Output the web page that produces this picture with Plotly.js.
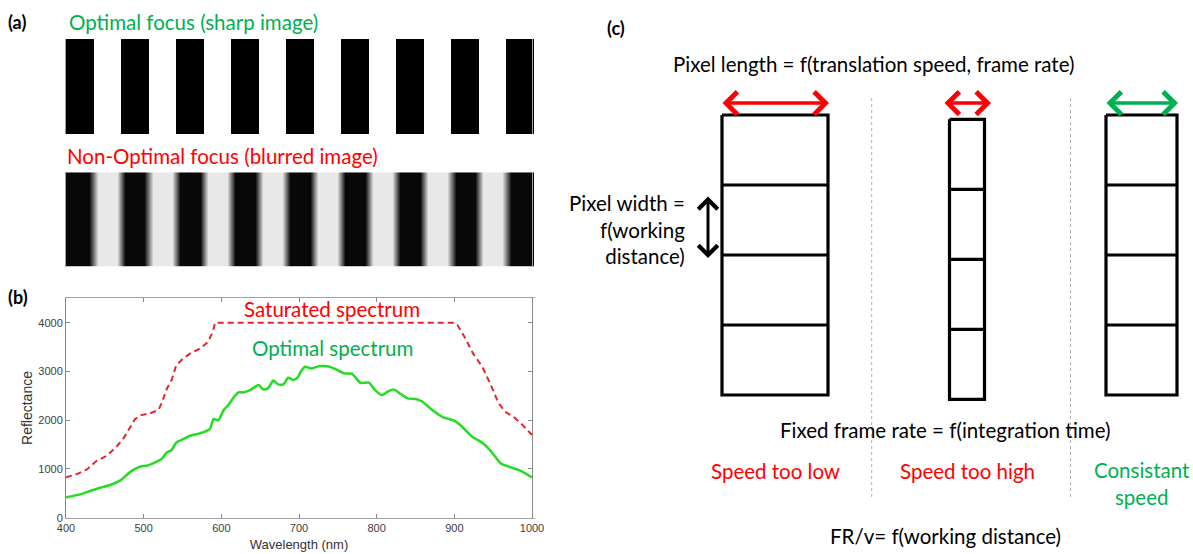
<!DOCTYPE html>
<html>
<head>
<meta charset="utf-8">
<script src="https://cdn.plot.ly/plotly-3.0.1.min.js"></script>
<style>html,body{margin:0;padding:0;background:#fff;}#chart{width:1193px;height:554px;}</style>
</head>
<body>
<div id="chart"></div>
<script>
// ---------------- DATA ----------------
// Panel (a): stripe pattern levels (0 = black, 1 = white)
const sharpStripes   = [0,1,0,1,0,1,0,1,0,1,0,1,0,1,0,1,0];
const blurredStripes = [0.03,0.91,0.03,0.91,0.03,0.91,0.03,0.91,0.03,0.91,0.03,0.91,0.03,0.91,0.03,0.91,0.03];

// Panel (b): spectra
const wavelengthOptimal = [400,418,431,444,457,470,482,495,504,512,523,530,536,542,551,560,572,585,590,596,603,609,615,622,628,637,648,654,660,667,673,680,686,693,699,702,708,716,727,738,747,758,768,779,790,798,807,814,822,831,840,850,859,870,885,900,909,923,936,947,960,973,986,1000];
const reflectanceOptimal = [417,478,547,615,670,765,930,1046,1066,1114,1203,1340,1388,1545,1613,1681,1729,1818,2023,1996,2208,2310,2447,2570,2570,2618,2720,2632,2652,2816,2734,2734,2871,2823,2891,2990,3096,3062,3110,3103,3049,2960,2953,2768,2768,2618,2515,2584,2632,2536,2447,2433,2379,2228,2064,1989,1880,1661,1538,1367,1114,1032,957,827];
const wavelengthSaturated = [400,414,427,439,452,465,474,482,489,497,508,519,523,530,536,542,551,562,573,583,589,592,900,904,913,924,936,947,956,965,976,986,1000];
const reflectanceSaturated = [827,895,991,1162,1265,1456,1627,1832,2023,2105,2139,2208,2344,2652,2823,3130,3267,3390,3472,3609,3814,4000,4000,3951,3712,3370,3096,2720,2379,2174,2071,1934,1695];
const xTickLabels = ['400','500','600','700','800','900','1000'];
const yTickLabels = ['0','1000','2000','3000','4000'];

// Panel (c): line-scan pixel diagram
const columnLabels = ['Speed too low','Speed too high','Consistant<br>speed'];
const pixelLengths = [106, 35, 71];    // relative pixel length along scan
const pixelCounts  = [4, 4, 4];
const pixelWidth   = 70;               // pixel width (working distance)

// ---------------- LAYOUT HELPERS ----------------
const W = 1193, H = 554;
const px = x => x / W;
const py = y => 1 - y / H;
const GREEN = '#00b050', RED = '#ff0000';
const TXT = 'Lato, "Open Sans", sans-serif';
const FS = 20.5;

const traces = [];

// Panel (a) sharp
traces.push({
  type: 'heatmap', xaxis: 'x2', yaxis: 'y2',
  x: sharpStripes.map((_, i) => i + 0.5), y: [0, 1],
  z: [sharpStripes, sharpStripes],
  colorscale: [[0, '#000000'], [1, '#ffffff']], zmin: 0, zmax: 1,
  showscale: false, hoverinfo: 'skip'
});
// Panel (a) blurred: plateau points within each stripe, smoothed in between
const bx = [], bz = [];
const edge = 0.15;
blurredStripes.forEach((v, i) => { bx.push(i + edge, i + 1 - edge); bz.push(v, v); });
bx.unshift(0); bz.unshift(blurredStripes[0]);
bx.push(blurredStripes.length); bz.push(blurredStripes[blurredStripes.length - 1]);
traces.push({
  type: 'heatmap', xaxis: 'x3', yaxis: 'y3',
  x: bx, y: [0, 1], z: [bz, bz], zsmooth: 'best',
  colorscale: [[0, '#000000'], [1, '#ffffff']], zmin: 0, zmax: 1,
  showscale: false, hoverinfo: 'skip'
});

// Panel (b)
traces.push({
  type: 'scatter', mode: 'lines', x: wavelengthSaturated, y: reflectanceSaturated,
  line: {color: '#e4262b', width: 2, dash: '6px,4px'}, hoverinfo: 'skip', showlegend: false
});
traces.push({
  type: 'scatter', mode: 'lines', x: wavelengthOptimal, y: reflectanceOptimal,
  line: {color: '#22dd22', width: 2.5, shape: 'spline', smoothing: 0.6}, hoverinfo: 'skip', showlegend: false
});

// Panel (c) pixel columns
const colCenters = [775, 967, 1141.5];
const colTops = [115, 119.3, 115];
const annotations = [];
const shapes = [];
columnLabels.forEach((lab, c) => {
  const L = colCenters[c] - pixelLengths[c] / 2, R = colCenters[c] + pixelLengths[c] / 2;
  const T = colTops[c], B = T + pixelCounts[c] * pixelWidth;
  const xs = [L, R, R, L, L], ys = [T, T, B, B, T];
  for (let k = 1; k < pixelCounts[c]; k++) {
    xs.push(null, L, R); ys.push(null, T + k * pixelWidth, T + k * pixelWidth);
  }
  traces.push({type: 'scatter', mode: 'lines', xaxis: 'x4', yaxis: 'y4', x: xs, y: ys,
    line: {color: '#000', width: 3.2}, hoverinfo: 'skip', showlegend: false});
  const col = c === 2 ? GREEN : RED;
  const aw = Math.max(pixelLengths[c], 46);
  annotations.push({xref: 'x4', yref: 'y4', axref: 'x4', ayref: 'y4',
    x: colCenters[c] + aw / 2 + 1, y: 103, ax: colCenters[c] - aw / 2 - 1, ay: 103,
    text: '', showarrow: true, arrowhead: 4, startarrowhead: 4, arrowside: 'end+start',
    arrowsize: 1.25, startarrowsize: 1.25, arrowwidth: 3.5, arrowcolor: col});
  annotations.push({xref: 'x4', yref: 'y4', x: colCenters[c], y: c === 2 ? 483.7 : 470.7,
    yanchor: 'middle', text: lab, showarrow: false, font: {family: TXT, size: FS, color: col}});
});
// vertical separators
[871.7, 1070.5].forEach(x => shapes.push({type: 'line', xref: 'x4', yref: 'y4', x0: x, x1: x, y0: 98, y1: 500,
  line: {color: '#b0b0b0', width: 1, dash: 'dot'}}));
// pixel width arrow
annotations.push({xref: 'x4', yref: 'y4', axref: 'x4', ayref: 'y4', x: 708, y: 258, ax: 708, ay: 195,
  text: '', showarrow: true, arrowhead: 4, startarrowhead: 4, arrowside: 'end+start',
  arrowsize: 1.25, startarrowsize: 1.25, arrowwidth: 3, arrowcolor: '#000'});

function txt(x, y, text, color, size, opts) {
  return Object.assign({xref: 'paper', yref: 'paper', x: px(x), y: py(y), text: text, showarrow: false,
    xanchor: 'center', yanchor: 'middle', font: {family: TXT, size: size, color: color}}, opts || {});
}
annotations.push(
  txt(17, 22, '<b>(a)</b>', '#000', 18),
  txt(67, 22, 'Optimal focus (sharp image)', GREEN, FS, {xanchor: 'left'}),
  txt(65, 156, 'Non-Optimal focus (blurred image)', RED, FS, {xanchor: 'left'}),
  txt(18, 297, '<b>(b)</b>', '#000', 18),
  txt(332, 309.5, 'Saturated spectrum', RED, FS),
  txt(332, 348, 'Optimal spectrum', GREEN, FS),
  txt(616, 28, '<b>(c)</b>', '#000', 18),
  txt(873.5, 64, 'Pixel length = f(translation speed, frame rate)', '#000', FS),
  txt(687, 229.5, 'Pixel width =<br>f(working<br>distance)', '#000', FS, {xanchor: 'right', align: 'right'}),
  txt(945.5, 430, 'Fixed frame rate = f(integration time)', '#000', FS),
  txt(945.5, 536, 'FR/v= f(working distance)', '#000', FS)
);

const hidden = {visible: false, fixedrange: true};
const AX = '"Liberation Sans", Arial, sans-serif';
const tickFont = {family: AX, size: 11, color: '#404040'};
const layout = {
  width: W, height: H, autosize: false,
  margin: {l: 0, r: 0, t: 0, b: 0},
  paper_bgcolor: '#fff', plot_bgcolor: '#fff',
  showlegend: false,
  xaxis: {domain: [px(66), px(532)], range: [400, 1000], tickvals: [400,500,600,700,800,900,1000], ticktext: xTickLabels,
    ticks: 'inside', ticklen: 4, tickcolor: '#888', showline: true, linecolor: '#888', linewidth: 1, mirror: 'ticks',
    showgrid: false, zeroline: false, tickfont: tickFont,
    title: {text: 'Wavelength (nm)', font: {family: AX, size: 13, color: '#333'}, standoff: 6}},
  yaxis: {domain: [py(517.7), py(298.3)], range: [0, 4500], tickvals: [0,1000,2000,3000,4000], ticktext: yTickLabels,
    ticks: 'inside', ticklen: 4, tickcolor: '#888', showline: true, linecolor: '#888', linewidth: 1, mirror: 'ticks',
    showgrid: false, zeroline: false, tickfont: tickFont,
    title: {text: 'Reflectance', font: {family: AX, size: 14, color: '#333'}, standoff: 2}},
  xaxis2: {domain: [px(66), px(534)], range: [0, 17], showline: true, mirror: true, linecolor: '#a0a0a0', linewidth: 1,
    showticklabels: false, ticks: '', showgrid: false, zeroline: false, fixedrange: true},
  yaxis2: {domain: [py(134.3), py(39)], range: [-0.5, 1.5], showline: true, mirror: true, linecolor: '#a0a0a0', linewidth: 1,
    showticklabels: false, ticks: '', showgrid: false, zeroline: false, fixedrange: true},
  xaxis3: {domain: [px(66), px(534)], range: [0, 17], showline: true, mirror: true, linecolor: '#a0a0a0', linewidth: 1,
    showticklabels: false, ticks: '', showgrid: false, zeroline: false, fixedrange: true},
  yaxis3: {domain: [py(266.7), py(172.3)], range: [-0.5, 1.5], showline: true, mirror: true, linecolor: '#a0a0a0', linewidth: 1,
    showticklabels: false, ticks: '', showgrid: false, zeroline: false, fixedrange: true},
  xaxis4: Object.assign({domain: [px(560), 1], range: [560, 1193]}, hidden),
  yaxis4: Object.assign({domain: [0, 1], range: [554, 0]}, hidden),
  annotations: annotations,
  shapes: shapes
};
Plotly.newPlot('chart', traces, layout, {staticPlot: true, displayModeBar: false});
</script>
</body>
</html>
